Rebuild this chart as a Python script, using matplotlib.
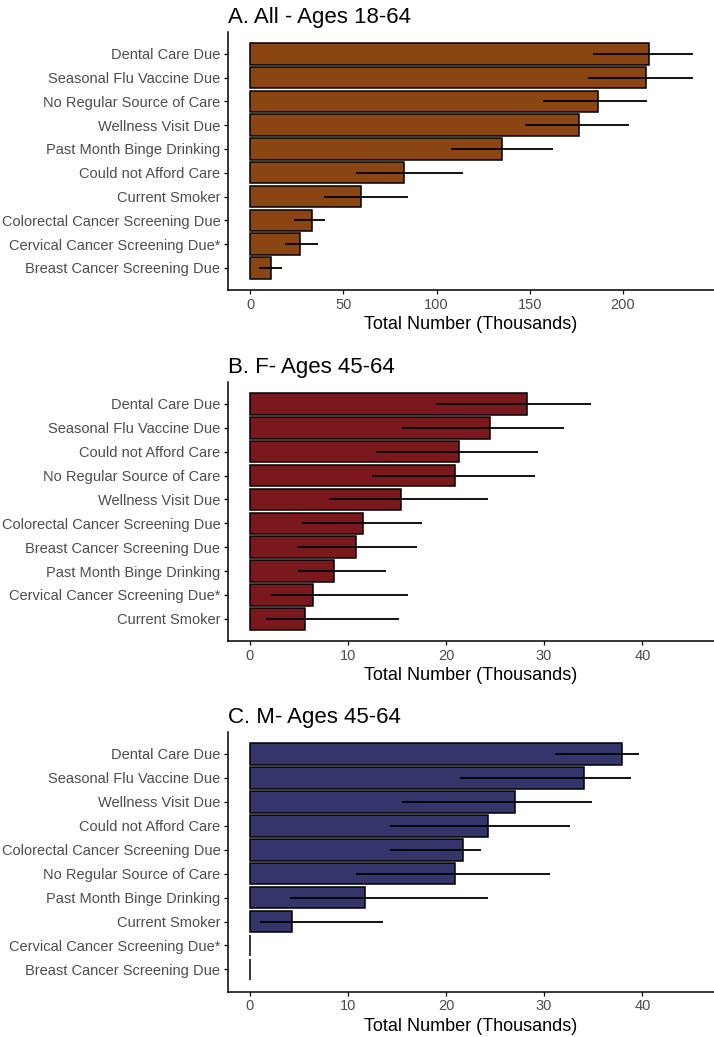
"""
plot.py
Three panels of horizontal bars with error ranges
"""

# Standard imports
import numpy as np
import matplotlib
matplotlib.use('Agg')
import matplotlib.pyplot as plt

plt.rcParams['font.family'] = ['Liberation Sans', 'DejaVu Sans']

# Panel A - All, ages 18-64
cats_a = ['Dental Care Due', 'Seasonal Flu Vaccine Due', 'No Regular Source of Care',
          'Wellness Visit Due', 'Past Month Binge Drinking', 'Could not Afford Care',
          'Current Smoker', 'Colorectal Cancer Screening Due',
          'Cervical Cancer Screening Due*', 'Breast Cancer Screening Due']
vals_a = [213.8, 212.3, 186.5, 176.2, 134.9, 82.6, 59.5, 33.4, 26.8, 11.0]
low_a = [184.0, 181.0, 157.0, 147.4, 108.0, 57.0, 39.8, 23.3, 18.9, 4.9]
high_a = [237.6, 237.6, 212.8, 203.0, 162.4, 114.0, 84.8, 40.0, 36.6, 17.0]

# Panel B - F, ages 45-64
cats_b = ['Dental Care Due', 'Seasonal Flu Vaccine Due', 'Could not Afford Care',
          'No Regular Source of Care', 'Wellness Visit Due',
          'Colorectal Cancer Screening Due', 'Breast Cancer Screening Due',
          'Past Month Binge Drinking', 'Cervical Cancer Screening Due*', 'Current Smoker']
vals_b = [28.3, 24.5, 21.3, 20.9, 15.4, 11.6, 10.8, 8.6, 6.5, 5.6]
low_b = [19.0, 15.5, 12.9, 12.5, 8.1, 5.3, 4.8, 4.9, 2.2, 1.7]
high_b = [34.8, 32.0, 29.4, 29.1, 24.3, 17.6, 17.1, 13.9, 16.1, 15.2]

# Panel C - M, ages 45-64
cats_c = ['Dental Care Due', 'Seasonal Flu Vaccine Due', 'Wellness Visit Due',
          'Could not Afford Care', 'Colorectal Cancer Screening Due',
          'No Regular Source of Care', 'Past Month Binge Drinking', 'Current Smoker',
          'Cervical Cancer Screening Due*', 'Breast Cancer Screening Due']
vals_c = [37.9, 34.1, 27.0, 24.3, 21.7, 20.9, 11.75, 4.3, 0.0, 0.0]
low_c = [31.1, 21.4, 15.5, 14.3, 14.3, 10.8, 4.1, 1.1, 0.0, 0.0]
high_c = [39.7, 38.8, 34.9, 32.6, 23.6, 30.6, 24.3, 13.6, 0.0, 0.0]

ticks_a = [0, 50, 100, 150, 200]
ticks_bc = [0, 10, 20, 30, 40]

# Size of the figure in pixels
w, h = 714, 1037


def draw_panel(ax, cats, vals, low, high, col, title, xlim, ticks):
    y = np.arange(len(cats))
    ax.barh(y, vals, height=0.9, color=col, edgecolor='black', linewidth=1.1, zorder=2)
    ax.hlines(y, low, high, color='black', linewidth=1.3, zorder=3)
    ax.set_yticks(y)
    ax.set_yticklabels(cats)
    ax.set_ylim(len(cats) - 1 + 0.93, -0.93)
    ax.set_xlim(*xlim)
    ax.set_xticks(ticks)
    ax.set_xlabel('Total Number (Thousands)', fontsize=13, labelpad=3)
    ax.set_title(title, loc='left', fontsize=16, pad=6)
    for s in ['top', 'right']:
        ax.spines[s].set_visible(False)
    for s in ['left', 'bottom']:
        ax.spines[s].set_linewidth(1.1)
    ax.tick_params(axis='both', labelsize=10.5, labelcolor='#4d4d4d',
                   length=3, width=0.9, pad=2.5)


def main():
    fig = plt.figure(figsize=(w / 100, h / 100), dpi=100)
    left, width = 228 / w, 486 / w

    ax1 = fig.add_axes([left, 1 - 290 / h, width, (290 - 31.7) / h])
    draw_panel(ax1, cats_a, vals_a, low_a, high_a, '#8b4513',
               'A. All - Ages 18-64', (-11.85, 248.85), ticks_a)

    ax2 = fig.add_axes([left, 1 - 641 / h, width, (641 - 381.7) / h])
    draw_panel(ax2, cats_b, vals_b, low_b, high_b, '#7a181d',
               'B. F- Ages 45-64', (-2.2, 47.3), ticks_bc)

    ax3 = fig.add_axes([left, 1 - 991.7 / h, width, (991.7 - 731.7) / h])
    draw_panel(ax3, cats_c, vals_c, low_c, high_c, '#34356a',
               'C. M- Ages 45-64', (-2.2, 47.3), ticks_bc)

    fig.savefig('out.png', dpi=100)


if __name__ == "__main__":
    main()
